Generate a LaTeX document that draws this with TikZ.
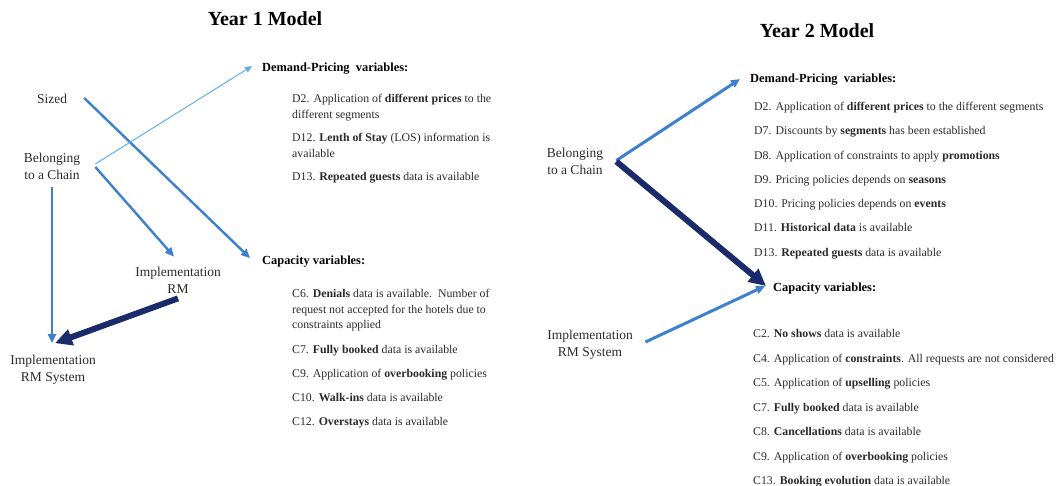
\documentclass[tikz,border=0pt]{standalone}
\usepackage{fontspec}
\setmainfont{Liberation Serif}
\usetikzlibrary{arrows.meta}
\definecolor{midblue}{HTML}{3C80CF}
\definecolor{lightblue}{HTML}{62ACE6}
\definecolor{navy}{HTML}{1B2A6B}
\definecolor{txt}{HTML}{2A2A2A}
\begin{document}
\begin{tikzpicture}[x=1pt,y=-1pt,
  ttl/.style={inner sep=0pt, font=\fontsize{20}{24}\selectfont\bfseries},
  lab/.style={inner sep=0pt, align=center, font=\fontsize{13.5}{17}\selectfont, text=txt},
  hdr/.style={inner sep=0pt, anchor=base west, font=\fontsize{12.4}{15}\selectfont\bfseries},
  item/.style={inner sep=0pt, anchor=base west, font=\fontsize{11.8}{15.5}\selectfont, text=txt},
  itemm/.style={item, anchor=north west, align=left},
  arr/.style={draw=midblue, line width=2.4pt, -{Triangle[length=9pt,width=8pt]}},
  thinarr/.style={draw=lightblue, line width=1pt, -{Triangle[length=7pt,width=6pt]}},
  boldarr/.style={draw=navy, line width=6pt, -{Triangle[length=17pt,width=16pt]}}]
\path[use as bounding box] (0,0) rectangle (1059,486);

% ---------------- Year 1 ----------------
\node[ttl] (t1) at (265,19) {Year 1 Model};
\node[lab] (sized) at (52,99) {Sized};
\node[lab] (belL) at (52,166) {Belonging\\to a Chain};
\node[lab] (implRM) at (178,280) {Implementation\\RM};
\node[lab] (implSysL) at (53,370) {Implementation\\RM System};

\node[hdr] (demL) at (262,72) {Demand-Pricing\ \ variables:};
\node[itemm] (d2L) at (292,94) {D2. Application of \textbf{different prices} to the\\different segments};
\node[itemm] (d12L) at (292,133) {D12. \textbf{Lenth of Stay} (LOS) information is\\available};
\node[item] (d13L) at (292,181) {D13. \textbf{Repeated guests} data is available};

\node[hdr] (capL) at (262,264) {Capacity variables:};
\node[itemm] (c6L) at (292,289) {C6. \textbf{Denials} data is available.\ \ Number of\\request not accepted for the hotels due to\\constraints applied};
\node[item] (c7L) at (292,353) {C7. \textbf{Fully booked} data is available};
\node[item] (c9L) at (292,377) {C9. Application of \textbf{overbooking} policies};
\node[item] (c10L) at (292,401) {C10. \textbf{Walk-ins} data is available};
\node[item] (c12L) at (292,425) {C12. \textbf{Overstays} data is available};

\draw[arr] ([xshift=17pt,yshift=1pt]sized.east) -- ([xshift=-12pt,yshift=3pt]capL.west);
\draw[thinarr] ([xshift=15pt,yshift=2pt]belL.east) -- ([xshift=-10pt,yshift=3pt]demL.west);
\draw[arr] ([xshift=15pt,yshift=-1pt]belL.east) -- ([xshift=-4pt,yshift=10pt]implRM.north);
\draw[arr, line width=2pt] ([yshift=-8pt]belL.south) -- ([yshift=12pt]belL.south |- implSysL.north);
\draw[boldarr] ([yshift=-5pt]implRM.south) -- ([xshift=2pt,yshift=12pt]implSysL.north);

% ---------------- Year 2 ----------------
\node[ttl] (t2) at (817,31) {Year 2 Model};
\node[lab] (belR) at (575,161.5) {Belonging\\to a Chain};
\node[lab] (implSysR) at (590,345) {Implementation\\RM System};

\node[hdr] (demR) at (750,83) {Demand-Pricing\ \ variables:};
\node[item] (d2R) at (754,110.5) {D2. Application of \textbf{different prices} to the different segments};
\node[item] (d7R) at (754,135) {D7. Discounts by \textbf{segments} has been established};
\node[item] (d8R) at (754,159.5) {D8. Application of constraints to apply \textbf{promotions}};
\node[item] (d9R) at (754,184) {D9. Pricing policies depends on \textbf{seasons}};
\node[item] (d10R) at (754,208) {D10. Pricing policies depends on \textbf{events}};
\node[item] (d11R) at (754,232) {D11. \textbf{Historical data} is available};
\node[item] (d13R) at (754,256) {D13. \textbf{Repeated guests} data is available};

\node[hdr] (capR) at (773,291.5) {Capacity variables:};
\node[item] (c2R) at (753,337) {C2. \textbf{No shows} data is available};
\node[item] (c4R) at (753,362) {C4. Application of \textbf{constraints}. All requests are not considered};
\node[item] (c5R) at (753,386) {C5. Application of \textbf{upselling} policies};
\node[item] (c7R) at (753,411) {C7. \textbf{Fully booked} data is available};
\node[item] (c8R) at (753,435) {C8. \textbf{Cancellations} data is available};
\node[item] (c9R) at (753,460) {C9. Application of \textbf{overbooking} policies};
\node[item] (c13R) at (753,484) {C13. \textbf{Booking evolution} data is available};

\draw[arr, line width=3pt] ([xshift=13pt,yshift=1pt]belR.east) -- ([xshift=-10pt,yshift=1pt]demR.west);
\draw[boldarr] ([xshift=13pt]belR.east) -- ([xshift=-7pt,yshift=2.5pt]capR.west);
\draw[arr, line width=3pt] ([xshift=12.5pt,yshift=3pt]implSysR.east) -- ([xshift=-8pt,yshift=2.5pt]capR.west);
\end{tikzpicture}
\end{document}
